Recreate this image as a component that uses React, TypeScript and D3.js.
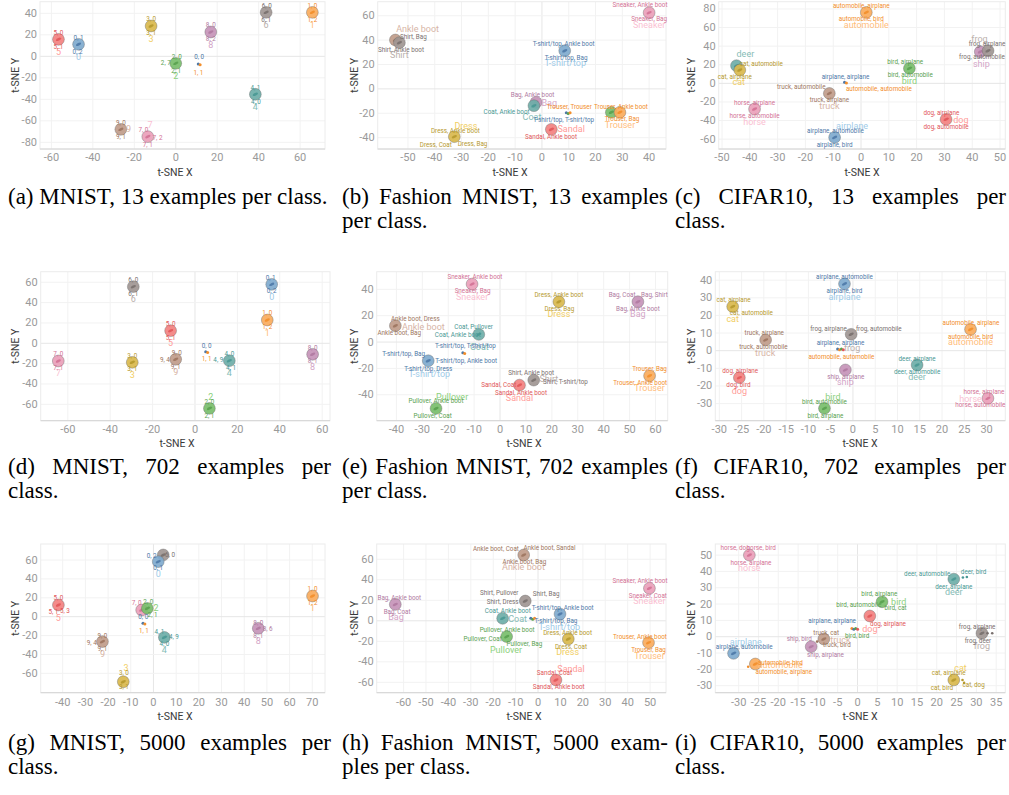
import React from 'react';
import * as d3 from 'd3';

// ---------- classes & palette ----------
const MNIST_CLASSES = ['0', '1', '2', '3', '4', '5', '6', '7', '8', '9'];
const FASHION_CLASSES = ['T-shirt/top', 'Trouser', 'Pullover', 'Dress', 'Coat', 'Sandal', 'Shirt', 'Sneaker', 'Bag', 'Ankle boot'];
const CIFAR_CLASSES = ['airplane', 'automobile', 'bird', 'cat', 'deer', 'dog', 'frog', 'horse', 'ship', 'truck'];

const DARK = ['#4e79a7', '#f28e2b', '#59a14f', '#b6992d', '#499894', '#e15759', '#79706e', '#d37295', '#b07aa1', '#9d7660'];
const LIGHT = ['#a0cbe8', '#ffbe7d', '#8cd17d', '#f1ce63', '#86bcb6', '#ff9d9a', '#bab0ac', '#fabfd2', '#d4a6c8', '#d7b5a6'];

type Pt = [string, number, number];

// ---------- (a) MNIST, 13 ----------
const clustersA: Pt[] = [['5', -56.6, 15.8], ['0', -46.9, 11.2], ['3', -11.9, 28.2], ['8', 16.9, 22.6], ['6', 43.6, 40.9], ['1', 65.9, 40.9], ['2', 0, -6.5], ['4', 38.4, -35.3], ['9', -26.5, -67.9], ['7', -13.5, -74.7]];
const protoA = { x: 11.3, y: -7.1, classes: ['0', '1'] };
const classLabelsA: Pt[] = [['5', -56.6, 3.7], ['0', -46.9, -0.6], ['3', -11.9, 16.1], ['8', 16.9, 10.9], ['6', 43.6, 29.1], ['1', 65.9, 29.1], ['2', 0, -18.6], ['4', 38.4, -47.4], ['9', -22.8, -67.9], ['7', -12.4, -64.2]];
const pairLabelsA: Pt[] = [['5, 0', -56.6, 22], ['5, 1', -56.6, 9], ['0, 1', -46.9, 17.4], ['0, 2', -47.4, 4.3], ['3, 0', -11.9, 34.4], ['3, 1', -11.9, 21.4], ['8, 0', 16.9, 28.8], ['8, 2', 16.9, 15.8], ['6, 0', 43.9, 47.1], ['6, 1', 43.6, 34.1], ['1, 0', 65.9, 47.1], ['1, 2', 65.9, 34.1], ['2, 0', 0.5, -0.9], ['2, 7', -4.8, -6.5], ['2, 1', 0.2, -13.6], ['0, 0', 11.3, -0.9], ['1, 1', 10.9, -15.2], ['4, 1', 38.4, -29.1], ['4, 0', 38.7, -42.2], ['9, 0', -26.5, -61.7], ['9, 1', -26.5, -74.7], ['7, 0', -15.6, -68.5], ['7, 2', -8.8, -75.7], ['7, 1', -13.5, -82.5]];
const xTicksA = [-60, -40, -20, 0, 20, 40, 60];
const yTicksA = [-80, -60, -40, -20, 0, 20, 40];

// ---------- (b) Fashion MNIST, 13 ----------
const clustersB: Pt[] = [['Ankle boot', -54.7, 40.1], ['Shirt', -53.2, 37.9], ['Sneaker', 40, 62.5], ['T-shirt/top', 8.5, 31.3], ['Bag', -2.2, -11], ['Coat', -3, -13.8], ['Pullover', 25.9, -19.2], ['Trouser', 29.1, -19.2], ['Sandal', 3.5, -33.2], ['Dress', -32.7, -39.2]];
const protoB = { x: 9.8, y: -19.5, classes: ['T-shirt/top', 'Pullover', 'Trouser'] };
const classLabelsB: Pt[] = [['Ankle boot', -46.4, 49.1], ['Shirt', -53.2, 27.8], ['Sneaker', 40, 52.4], ['T-shirt/top', 8.7, 21], ['Bag', 2.7, -11.6], ['Coat', -3.7, -23.3], ['Trouser', 29.1, -29.6], ['Sandal', 10.9, -33.2], ['Dress', -28.4, -30.4]];
const pairLabelsB: Pt[] = [['Shirt, Bag', -48, 42.8], ['Shirt, Ankle boot', -52.6, 31.9], ['Sneaker, Ankle boot', 36.6, 68.8], ['Sneaker, Bag', 40, 57], ['T-shirt/top, Ankle boot', 8.1, 36.8], ['T-shirt/top, Bag', 9, 25.6], ['Bag, Ankle boot', -3.5, -5], ['Coat, Ankle boot', -13.2, -18.9], ['Trouser, Trouser', 10.2, -14.6], ['T-shirt/top, T-shirt/top', 8.1, -25.5], ['Trouser, Ankle boot', 29.5, -14.6], ['Trouser, Bag', 29.9, -25], ['Sandal, Ankle boot', 3.4, -39.2], ['Dress, Ankle boot', -32.3, -34.2], ['Dress, Coat', -39.6, -45.8], ['Dress, Bag', -25.9, -45.2]];
const xTicksB = [-50, -40, -30, -20, -10, 0, 10, 20, 30, 40];
const yTicksB = [-40, -20, 0, 20, 40, 60];

// ---------- (c) CIFAR10, 13 ----------
const clustersC: Pt[] = [['automobile', 1.9, 76.3], ['ship', 42.9, 34], ['frog', 45.7, 35.1], ['deer', -44.8, 19], ['cat', -43.6, 14.3], ['bird', 17.4, 16.1], ['truck', -11.4, -10.8], ['horse', -38.3, -27.6], ['dog', 30.6, -38.7], ['airplane', -9.5, -58.1]];
const protoC = { x: -5.6, y: 1.1, classes: ['airplane', 'automobile'] };
const classLabelsC: Pt[] = [['automobile', 1.9, 62.7], ['frog', 42.6, 47.3], ['ship', 43.3, 20.8], ['deer', -41.6, 31.2], ['cat', -44, 1.1], ['bird', 17.4, 2.9], ['truck', -11.4, -24.4], ['horse', -38.3, -41.6], ['dog', 35.9, -39.4], ['airplane', -3.2, -45.9]];
const pairLabelsC: Pt[] = [['automobile, airplane', 0.1, 83.2], ['automobile, bird', 0.1, 68.8], ['frog, airplane', 45.3, 41.9], ['frog, automobile', 43.5, 28], ['cat, automobile', -35.9, 20.8], ['cat, airplane', -45.4, 6.8], ['bird, airplane', 15.9, 22.9], ['bird, automobile', 17.7, 9], ['airplane, airplane', -5.6, 7.2], ['automobile, automobile', 6.4, -6.5], ['truck, automobile', -21.5, -3.9], ['truck, airplane', -11.4, -17.9], ['horse, airplane', -38.3, -21.1], ['horse, automobile', -38.3, -35.1], ['dog, airplane', 28.9, -32.3], ['dog, automobile', 30.6, -46.6], ['airplane, automobile', -9.2, -51.6], ['airplane, bird', -9.5, -65.9]];
const xTicksC = [-50, -40, -30, -20, -10, 0, 10, 20, 30, 40, 50];
const yTicksC = [-60, -40, -20, 0, 20, 40, 60, 80];

// ---------- (d) MNIST, 702 ----------
const clustersD: Pt[] = [['6', -29.1, 55.7], ['0', 36.2, 58], ['1', 34.1, 22.9], ['5', -11.5, 12.4], ['7', -64.5, -17.4], ['3', -29.6, -18.7], ['9', -9.1, -15.7], ['4', 16.2, -17.1], ['8', 55.5, -10.8], ['2', 6.8, -64]];
const protoD = { x: 5.5, y: -8.2, classes: ['0', '1'] };
const classLabelsD: Pt[] = [['6', -29.1, 43.2], ['0', 36.2, 45.9], ['1', 34.1, 10.5], ['5', -11.5, 0], ['7', -64.5, -29.5], ['3', -29.6, -30.8], ['9', -9.1, -28.6], ['4', 16.2, -29.5], ['8', 55.5, -23], ['2', 7.4, -52.5]];
const pairLabelsD: Pt[] = [['6, 0', -29.1, 62.3], ['6, 1', -29.1, 48.5], ['0, 1', 35.7, 64.2], ['0, 2', 36.2, 51.4], ['1, 0', 34.1, 29.5], ['1, 2', 34.1, 15.7], ['5, 0', -11.5, 19], ['5, 1', -11.5, 5.5], ['0, 0', 5.5, -2.3], ['1, 1', 5.5, -15.8], ['7, 0', -64.5, -10.8], ['7, 1', -64.5, -24], ['3, 0', -29.6, -12.2], ['3, 1', -29.6, -25.2], ['9, 0', -8.6, -9.8], ['9, 4', -14.2, -16.4], ['9, 1', -9.1, -23], ['4, 0', 16.2, -10.5], ['4, 9', 11, -16.4], ['4, 1', 17, -24.6], ['8, 0', 55.5, -4.3], ['8, 1', 55.5, -17.1], ['2, 0', 6.8, -57.4], ['2, 1', 6.8, -71.1]];
const xTicksD = [-60, -40, -20, 0, 20, 40, 60];
const yTicksD = [-60, -40, -20, 0, 20, 40, 60];

// ---------- (e) Fashion MNIST, 702 ----------
const clustersE: Pt[] = [['Sneaker', -10.8, 44], ['Dress', 22.7, 30.6], ['Bag', 53.2, 30.6], ['Ankle boot', -40.4, 12.4], ['Coat', -8.2, 5.8], ['T-shirt/top', -27.7, -14.2], ['Shirt', 13, -28.9], ['Sandal', 7.5, -32.7], ['Trouser', 57.7, -25.6], ['Pullover', -24.7, -50.4]];
const protoE = { x: -14, y: -8.1, classes: ['T-shirt/top', 'Trouser'] };
const classLabelsE: Pt[] = [['Sneaker', -10.8, 34.4], ['Dress', 22.7, 21], ['Bag', 53.2, 21], ['Ankle boot', -29.6, 11.6], ['Coat', -8, -4.1], ['T-shirt/top', -27.3, -24.6], ['Shirt', 18.8, -28.4], ['Sandal', 7.5, -42.8], ['Trouser', 57.7, -34.7], ['Pullover', -18.5, -42]];
const pairLabelsE: Pt[] = [['Sneaker, Ankle boot', -9.7, 49.1], ['Sneaker, Bag', -10.6, 38.7], ['Dress, Ankle boot', 22.7, 35.4], ['Dress, Bag', 22.9, 25.1], ['Bag, Coat', 47.1, 35.7], ['Bag, Shirt', 59.6, 35.7], ['Bag, Ankle boot', 53.2, 25.1], ['Ankle boot, Dress', -32.7, 17.2], ['Ankle boot, Bag', -38.9, 6.6], ['Coat, Pullover', -10.2, 11.6], ['Coat, Ankle boot', -16.3, 5.3], ['T-shirt/top, T-shirt/top', -13.4, -3], ['T-shirt/top, Bag', -37.2, -9.4], ['T-shirt/top, Ankle boot', -13.1, -14.2], ['T-shirt/top, Dress', -27.7, -20.5], ['Shirt, Ankle boot', 12, -23.8], ['Shirt, T-shirt/top', 25.2, -30.4], ['Sandal, Coat', -0.5, -32.7], ['Sandal, Ankle boot', 8.1, -39], ['Trouser, Bag', 57.7, -20.8], ['Trouser, Ankle boot', 54.1, -30.9], ['Pullover, Ankle boot', -24.7, -45.1], ['Pullover, Coat', -26, -56]];
const xTicksE = [-40, -30, -20, -10, 0, 10, 20, 30, 40, 50, 60];
const yTicksE = [-40, -20, 0, 20, 40];

// ---------- (f) CIFAR10, 702 ----------
const clustersF: Pt[] = [['airplane', -1.9, 37.9], ['cat', -27, 25], ['truck', -19.6, 6.1], ['frog', -0.4, 9.3], ['automobile', 26.4, 12.1], ['deer', 14.4, -8.1], ['ship', -1.7, -10.9], ['dog', -25.5, -15.3], ['horse', 30.3, -27], ['bird', -6.4, -32.7]];
const protoF = { x: -2.8, y: 1, classes: ['airplane', 'automobile', 'bird', 'dog'] };
const classLabelsF: Pt[] = [['airplane', -1.9, 30.7], ['cat', -27, 17.8], ['truck', -19.7, -1.1], ['frog', -0.2, 1.7], ['automobile', 26.4, 5.1], ['deer', 14.4, -15.1], ['ship', -1.7, -18], ['dog', -25.5, -22.7], ['horse', 26.4, -27.2], ['bird', -4.5, -26.5]];
const pairLabelsF: Pt[] = [['airplane, automobile', -1.9, 42], ['airplane, bird', -1.9, 34.1], ['cat, airplane', -26.8, 28.8], ['cat, automobile', -22.8, 21.2], ['truck, airplane', -19.9, 9.9], ['truck, automobile', -20.1, 1.9], ['frog, airplane', -5.5, 12.1], ['frog, automobile', 5.8, 12.1], ['airplane, airplane', -2.8, 4.2], ['automobile, automobile', -2.6, -3.4], ['automobile, airplane', 26.5, 15.5], ['automobile, bird', 26.4, 8], ['deer, airplane', 14.4, -4.5], ['deer, automobile', 14.4, -11.9], ['ship, airplane', -1.6, -15.1], ['dog, airplane', -25.3, -11.5], ['dog, bird', -25.7, -19.5], ['horse, airplane', 29.4, -23.4], ['horse, automobile', 28.6, -30.8], ['bird, automobile', -6.4, -29.3], ['bird, airplane', -6.2, -36.9]];
const xTicksF = [-30, -25, -20, -15, -10, -5, 0, 5, 10, 15, 20, 25, 30];
const yTicksF = [-30, -20, -10, 0, 10, 20, 30, 40];

// ---------- (g) MNIST, 5000 ----------
const clustersG: Pt[] = [['6', 4.3, 65.4], ['0', 2.1, 58.3], ['1', 70.1, 21.9], ['5', -41.9, 12.4], ['7', -5.2, 7.1], ['2', -2.7, 8.8], ['4', 4.8, -21.9], ['9', -22.5, -26.4], ['8', 46.2, -12.3], ['3', -13.3, -68.9]];
const protoG = { x: -4.2, y: -7, classes: ['0', '1'] };
const classLabelsG: Pt[] = [['0', 2.1, 44.9], ['1', 70.1, 8.9], ['5', -41.9, -1.1], ['2', 1.1, 8.8], ['4', 4.8, -35.3], ['9', -22.5, -39.8], ['8', 46.2, -25.8], ['3', -12.1, -54.7]];
const pairLabelsG: Pt[] = [['0, 2', -0.8, 64.6], ['6, 0', 7.3, 65.4], ['0, 1', 2.1, 51.2], ['1, 0', 70.1, 29], ['1, 2', 70.1, 14.9], ['5, 0', -41.9, 19.4], ['5, 1', -44.1, 5.3], ['5, 3', -39, 6], ['7, 0', -7.4, 14.9], ['2, 0', -2.3, 15.9], ['2, 1', -0.4, 1.8], ['0, 0', -4.5, -0.7], ['1, 1', -4.2, -14.8], ['4, 1', 2.6, -16.6], ['4, 9', 9, -21.2], ['4, 0', 4.8, -29.3], ['9, 0', -22.5, -20.1], ['9, 4', -27.2, -27.5], ['9, 1', -22.5, -34.5], ['8, 0', 46.2, -6.4], ['8, 6', 50.3, -13.4], ['8, 1', 46.2, -20.1], ['3, 0', -13, -60], ['3, 1', -13, -74.8]];
const xTicksG = [-40, -30, -20, -10, 0, 10, 20, 30, 40, 50, 60, 70];
const yTicksG = [-60, -40, -20, 0, 20, 40, 60];

// ---------- (h) Fashion MNIST, 5000 ----------
const clustersH: Pt[] = [['Ankle boot', -6.4, 64.2], ['Sneaker', 49.7, 31.7], ['Bag', -63.7, 16], ['Shirt', -5.7, 19.3], ['Coat', -15.8, 2.4], ['T-shirt/top', 9.8, 6.6], ['Pullover', -14, -15.4], ['Dress', 13.5, -17.7], ['Trouser', 49.3, -21.3], ['Sandal', 8, -57.7]];
const protoH = { x: -2.4, y: 2.4, classes: ['T-shirt/top', 'Pullover', 'Trouser'] };
const classLabelsH: Pt[] = [['Ankle boot', -6.5, 52.2], ['Sneaker', 49.7, 19.3], ['Bag', -63.4, 3.4], ['Coat', -9.1, 2.1], ['T-shirt/top', 9.5, -5.7], ['Pullover', -14.3, -28.5], ['Dress', 13.2, -30.1], ['Trouser', 49.7, -34], ['Sandal', 14.7, -47]];
const pairLabelsH: Pt[] = [['Ankle boot, Coat', -18.8, 69.7], ['Ankle boot, Sandal', 5.1, 70.7], ['Ankle boot, Bag', -6.1, 57.7], ['Sneaker, Ankle boot', 45.5, 38.8], ['Sneaker, Coat', 49, 24.5], ['Bag, Ankle boot', -61.9, 21.9], ['Bag, Coat', -62.9, 8.9], ['Shirt, Pullover', -17.3, 26.8], ['Shirt, Bag', 3.6, 25.8], ['Shirt, Dress', -15.8, 18.3], ['Coat, Ankle boot', -13.5, 9.2], ['T-shirt/top, Ankle boot', 11, 12.2], ['T-shirt/top, Bag', 8, -0.5], ['Pullover, Ankle boot', -13.8, -8.9], ['Pullover, Coat', -24.7, -17.7], ['Pullover, Bag', -6.1, -22.6], ['Dress, Ankle boot', 13.2, -11.6], ['Dress, Coat', 14.7, -25.9], ['Trouser, Ankle boot', 45.5, -15.4], ['Trouser, Bag', 49.3, -28.5], ['Sandal, Coat', 7.3, -51.3], ['Sandal, Ankle boot', 9.2, -64.9]];
const xTicksH = [-60, -50, -40, -30, -20, -10, 0, 10, 20, 30, 40, 50];
const yTicksH = [-60, -40, -20, 0, 20, 40, 60];

// ---------- (i) CIFAR10, 5000 ----------
const clustersI: Pt[] = [['horse', -27.3, 50], ['deer', 24.3, 35.3], ['bird', 6.2, 21.4], ['dog', 3.1, 12.7], ['frog', 31.4, 2.1], ['truck', -8.5, -1.4], ['ship', -11.7, -6.1], ['airplane', -31.3, -10.2], ['automobile', -25.8, -16.7], ['cat', 24.3, -26.5]];
const protoI = { x: -0.7, y: 5.1, classes: ['automobile', 'airplane', 'bird', 'dog'] };
const extraI: Pt[] = [['automobile', -27.6, -18.4], ['deer', 26.6, 36.3], ['deer', 27.6, 36.6], ['cat', 26.5, -26.5], ['cat', 26.9, -28.3], ['frog', 32.8, 2.1], ['frog', 34, 2.1], ['truck', -10.2, -3]];
const classLabelsI: Pt[] = [['horse', -27.3, 41.9], ['deer', 24.3, 27.6], ['bird', 10.4, 21], ['dog', 3.1, 4.5], ['frog', 31.4, -5.7], ['truck', -4.3, -2], ['airplane', -28.2, -3.5], ['automobile', -19.5, -17.3], ['cat', 26, -19.4]];
const pairLabelsI: Pt[] = [['horse, dog', -30.9, 54.1], ['horse, bird', -24.3, 54.1], ['horse, airplane', -26.9, 44.9], ['deer, automobile', 17.6, 38.4], ['deer, bird', 29.3, 39.8], ['deer, airplane', 24.3, 30.6], ['bird, airplane', 5.5, 26.1], ['bird, automobile', 0.3, 19.4], ['bird, cat', 9.6, 17.4], ['dog, airplane', 7.7, 7.6], ['airplane, airplane', -6.4, 9.4], ['bird, bird', -0.1, 0.4], ['frog, airplane', 30.2, 6.1], ['frog, deer', 30.4, -2.6], ['truck, cat', -7.9, 2.5], ['truck, bird', -5.2, -5.3], ['ship, bird', -14.7, -1.6], ['ship, airplane', -8.1, -11.2], ['airplane, automobile', -28.6, -6.5], ['automobile, bird', -19.5, -15.9], ['automobile, airplane', -18.6, -21.4], ['cat, airplane', 23, -22], ['cat, dog', 29.3, -29.6], ['cat, bird', 21.3, -31.2]];
const xTicksI = [-30, -25, -20, -15, -10, -5, 0, 5, 10, 15, 20, 25, 30, 35];
const yTicksI = [-30, -20, -10, 0, 10, 20, 30, 40, 50];

// ---------- captions ----------
const captionA = ['(a) MNIST, 13 examples per class.'];
const captionB = ['(b) Fashion MNIST, 13 examples', 'per class.'];
const captionC = ['(c) CIFAR10, 13 examples per', 'class.'];
const captionD = ['(d) MNIST, 702 examples per', 'class.'];
const captionE = ['(e) Fashion MNIST, 702 examples', 'per class.'];
const captionF = ['(f) CIFAR10, 702 examples per', 'class.'];
const captionG = ['(g) MNIST, 5000 examples per', 'class.'];
const captionH = ['(h) Fashion MNIST, 5000 exam-', 'ples per class.'];
const captionI = ['(i) CIFAR10, 5000 examples per', 'class.'];

// ---------- layout ----------
const ROW_TOP = [1.7, 271.7, 544];
const ROW_BOTTOM = [149, 420.7, 692.7];
const TICK_Y = [157, 429.5, 702.3];
const XTITLE_Y = [172, 443.5, 716];
const CAP_Y = [203.5, 473.5, 749.5];
const COL_YTITLE = [15, 354, 691];
const COL_CAP = [[8, 331], [342, 668], [675, 1006]];

const PANELS = [
  { row: 0, col: 0, l: 40, r: 325, xDom: [-65.5, 72.0], yDom: [-86.2, 50.8], xt: 175, names: MNIST_CLASSES, clusters: clustersA, proto: protoA, extra: [] as Pt[], classLabels: classLabelsA, pairLabels: pairLabelsA, xTicks: xTicksA, yTicks: yTicksA, caption: captionA },
  { row: 0, col: 1, l: 377.7, r: 666, xDom: [-61.3, 46.3], yDom: [-49.3, 71.5], xt: 510, names: FASHION_CLASSES, clusters: clustersB, proto: protoB, extra: [] as Pt[], classLabels: classLabelsB, pairLabels: pairLabelsB, xTicks: xTicksB, yTicks: yTicksB, caption: captionB },
  { row: 0, col: 2, l: 718.7, r: 1005.3, xDom: [-51.2, 51.9], yDom: [-70.6, 87.8], xt: 862, names: CIFAR_CLASSES, clusters: clustersC, proto: protoC, extra: [] as Pt[], classLabels: classLabelsC, pairLabels: pairLabelsC, xTicks: xTicksC, yTicks: yTicksC, caption: captionC },
  { row: 1, col: 0, l: 40.7, r: 330, xDom: [-72.8, 63.7], yDom: [-76.1, 70.4], xt: 177, names: MNIST_CLASSES, clusters: clustersD, proto: protoD, extra: [] as Pt[], classLabels: classLabelsD, pairLabels: pairLabelsD, xTicks: xTicksD, yTicks: yTicksD, caption: captionD },
  { row: 1, col: 1, l: 376.7, r: 667.7, xDom: [-47.6, 64.7], yDom: [-59.7, 53.4], xt: 524, names: FASHION_CLASSES, clusters: clustersE, proto: protoE, extra: [] as Pt[], classLabels: classLabelsE, pairLabels: pairLabelsE, xTicks: xTicksE, yTicks: yTicksE, caption: captionE },
  { row: 1, col: 2, l: 715.3, r: 1005.3, xDom: [-30.9, 34.2], yDom: [-39.7, 44.8], xt: 860, names: CIFAR_CLASSES, clusters: clustersF, proto: protoF, extra: [] as Pt[], classLabels: classLabelsF, pairLabels: pairLabelsF, xTicks: xTicksF, yTicks: yTicksF, caption: captionF },
  { row: 2, col: 0, l: 40.7, r: 325, xDom: [-49.7, 75.6], yDom: [-80.5, 77], xt: 175, names: MNIST_CLASSES, clusters: clustersG, proto: protoG, extra: [] as Pt[], classLabels: classLabelsG, pairLabels: pairLabelsG, xTicks: xTicksG, yTicks: yTicksG, caption: captionG },
  { row: 2, col: 1, l: 376.7, r: 666, xDom: [-72, 57.1], yDom: [-70.1, 74.9], xt: 524, names: FASHION_CLASSES, clusters: clustersH, proto: protoH, extra: [] as Pt[], classLabels: classLabelsH, pairLabels: pairLabelsH, xTicks: xTicksH, yTicks: yTicksH, caption: captionH },
  { row: 2, col: 2, l: 715.3, r: 1005.3, xDom: [-35.9, 37.3], yDom: [-34.3, 56.8], xt: 860, names: CIFAR_CLASSES, clusters: clustersI, proto: protoI, extra: extraI, classLabels: classLabelsI, pairLabels: pairLabelsI, xTicks: xTicksI, yTicks: yTicksI, caption: captionI },
];

const SANS = 'Roboto, "Noto Sans", sans-serif';
const SERIF = '"Liberation Serif", "Times New Roman", serif';
const CAP_FONT_SIZE = 23;

let measureCtx: CanvasRenderingContext2D | null = null;
function textWidth(s: string): number {
  if (!measureCtx && typeof document !== 'undefined') {
    measureCtx = document.createElement('canvas').getContext('2d');
  }
  if (!measureCtx) return s.length * CAP_FONT_SIZE * 0.45;
  measureCtx.font = `${CAP_FONT_SIZE}px "Liberation Serif"`;
  return measureCtx.measureText(s).width;
}

function Caption({ lines, x0, x1, y }: { lines: string[]; x0: number; x1: number; y: number }) {
  return (
    <g fontFamily={SERIF} fontSize={CAP_FONT_SIZE} fill="#000">
      {lines.map((line, li) => {
        const ly = y + li * 24.5;
        if (li === lines.length - 1) {
          return <text key={li} x={x0} y={ly}>{line}</text>;
        }
        const words = line.split(' ');
        const widths = words.map(textWidth);
        const total = widths.reduce((a, b) => a + b, 0);
        const gap = (x1 - x0 - total) / (words.length - 1);
        let cx = x0;
        return (
          <g key={li}>
            {words.map((w, wi) => {
              const el = <text key={wi} x={cx} y={ly}>{w}</text>;
              cx += widths[wi] + gap;
              return el;
            })}
          </g>
        );
      })}
    </g>
  );
}

function Panel({ p }: { p: typeof PANELS[number] }) {
  const top = ROW_TOP[p.row];
  const bottom = ROW_BOTTOM[p.row];
  const x = d3.scaleLinear().domain(p.xDom).range([p.l, p.r]);
  const y = d3.scaleLinear().domain(p.yDom).range([bottom, top]);
  const idx = (name: string) => p.names.indexOf(name);
  const firstIdx = (txt: string) => idx(txt.split(', ')[0]);
  const R = 5.9;

  return (
    <g>
      {/* gridlines */}
      {p.xTicks.map((t) => (
        <line key={'gx' + t} x1={x(t)} x2={x(t)} y1={top} y2={bottom} stroke={t === 0 ? '#e6e6e6' : '#f2f2f2'} strokeWidth={1} />
      ))}
      {p.yTicks.map((t) => (
        <line key={'gy' + t} x1={p.l} x2={p.r} y1={y(t)} y2={y(t)} stroke={t === 0 ? '#e6e6e6' : '#f2f2f2'} strokeWidth={1} />
      ))}
      <rect x={p.l} y={top} width={p.r - p.l} height={bottom - top} fill="none" stroke="#ececec" strokeWidth={1} />
      <line x1={p.l} x2={p.r} y1={bottom} y2={bottom} stroke="#d4d4d4" strokeWidth={1} />

      {/* ticks */}
      <g fontFamily={SANS} fontSize={11} fill="#9a9a9a">
        {p.xTicks.map((t) => (
          <text key={'tx' + t} x={x(t)} y={TICK_Y[p.row]} textAnchor="middle" dominantBaseline="central">{String(t)}</text>
        ))}
        {p.yTicks.map((t) => (
          <text key={'ty' + t} x={p.l - 3} y={y(t)} textAnchor="end" dominantBaseline="central">{String(t)}</text>
        ))}
      </g>
      <text x={p.xt} y={XTITLE_Y[p.row]} textAnchor="middle" dominantBaseline="central" fontFamily={SANS} fontSize={10.5} fill="#3a3a3a">t-SNE X</text>
      <text transform={`translate(${COL_YTITLE[p.col]},${(top + bottom) / 2}) rotate(-90)`} textAnchor="middle" dominantBaseline="central" fontFamily={SANS} fontSize={10.5} fill="#3a3a3a">t-SNE Y</text>

      {/* clusters */}
      {p.clusters.map(([name, cx, cy], i) => {
        const k = idx(name);
        const fill = d3.interpolateRgb(LIGHT[k], DARK[k])(0.4);
        return (
          <g key={'c' + i} transform={`translate(${x(cx)},${y(cy)})`}>
            <circle r={R} fill={fill} fillOpacity={0.92} stroke="#6b6b6b" strokeOpacity={0.45} strokeWidth={0.9} />
            <ellipse rx={2.8} ry={1.3} transform="rotate(-25)" fill={DARK[k]} fillOpacity={0.9} />
          </g>
        );
      })}
      {p.extra.map(([name, ex, ey], i) => (
        <circle key={'e' + i} cx={x(ex)} cy={y(ey)} r={1.3} fill={DARK[idx(name)]} />
      ))}
      {p.proto.classes.map((name, i) => (
        <circle key={'p' + i} cx={x(p.proto.x) + (i - (p.proto.classes.length - 1) / 2) * 1.9} cy={y(p.proto.y) + (i % 2) * 0.8} r={1.5} fill={DARK[idx(name)]} />
      ))}

      {/* labels */}
      <g fontFamily={SANS} textAnchor="middle" dominantBaseline="central">
        {p.classLabels.map(([txt, lx, ly], i) => (
          <text key={'cl' + i} x={x(lx)} y={y(ly)} fontSize={9} fill={LIGHT[idx(txt)]}>{txt}</text>
        ))}
        {p.pairLabels.map(([txt, lx, ly], i) => (
          <text key={'pl' + i} x={x(lx)} y={y(ly)} fontSize={6.3} fill={DARK[firstIdx(txt)]}>{txt}</text>
        ))}
      </g>

      <Caption lines={p.caption} x0={COL_CAP[p.col][0]} x1={COL_CAP[p.col][1]} y={CAP_Y[p.row]} />
    </g>
  );
}

export default function App() {
  return (
    <svg width={1009} height={795} style={{ position: 'absolute', left: 0, top: 0, background: '#fff' }}>
      <rect width={1009} height={795} fill="#fff" />
      {PANELS.map((p, i) => (
        <Panel key={i} p={p} />
      ))}
    </svg>
  );
}
